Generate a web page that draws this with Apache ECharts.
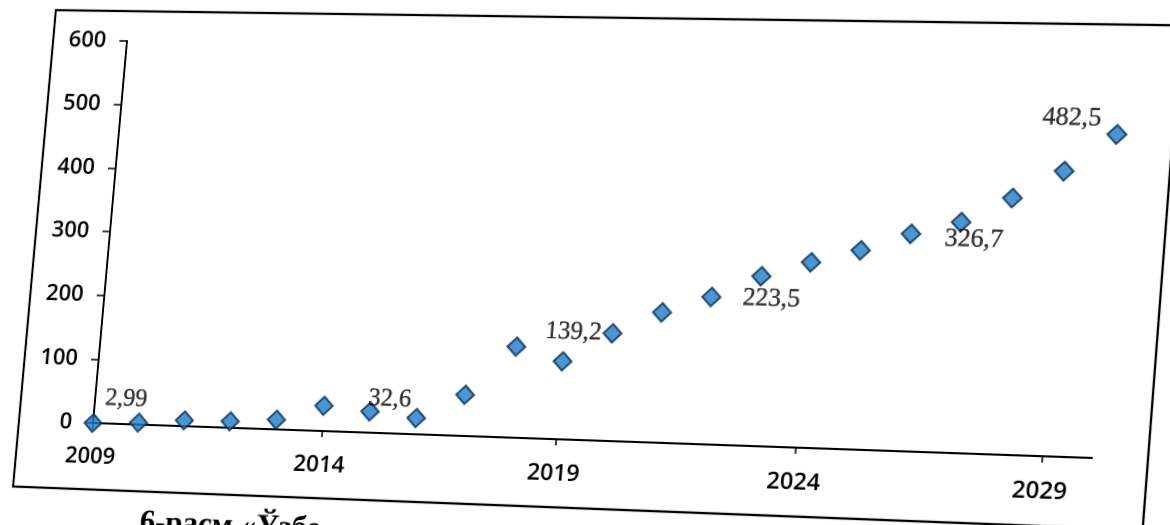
<!DOCTYPE html>
<html>
<head>
<meta charset="utf-8">
<script src="https://cdn.jsdelivr.net/npm/echarts@6/dist/echarts.min.js"></script>
<style>
  html, body { margin: 0; padding: 0; background: #fff; overflow: hidden; }
  #wrap { position: absolute; left: 0; top: 0; width: 1170px; height: 525px; transform-origin: 0 0; }
  #chart { width: 1170px; height: 525px; }
</style>
</head>
<body>
<div id="wrap"><div id="chart"></div></div>
<script>
// ---- data ----
const years = ['2009','2010','2011','2012','2013','2014','2015','2016','2017','2018','2019',
               '2020','2021','2022','2023','2024','2025','2026','2027','2028','2029','2030'];
const values = [0, 2.99, 9, 10, 15, 39, 32.6, 25, 63, 139.2, 119,
                164, 198, 223.5, 257, 280, 300, 326.7, 346, 384, 426, 482.5];
const labelledYears = ['2010', '2015', '2018', '2022', '2026', '2030'];
const yTicks = { min: 0, max: 600, step: 100 };
const captionText = '6-расм «Ўзбе';

// ---- label placement (style, not data) ----
const labelOffsets = {
  '2010': [-15, -23], '2015': [19, -13], '2018': [56, -16],
  '2022': [59, 0], '2026': [61, 4], '2030': [-44, -15]
};

// ---- page warp of the scanned sheet (layout only) ----
function homography(src, dst) {
  const A = [], b = [];
  for (let i = 0; i < 4; i++) {
    const [u, v] = src[i], [x, y] = dst[i];
    A.push([u, v, 1, 0, 0, 0, -u * x, -v * x]); b.push(x);
    A.push([0, 0, 0, u, v, 1, -u * y, -v * y]); b.push(y);
  }
  const n = 8;
  for (let c = 0; c < n; c++) {
    let p = c;
    for (let r = c + 1; r < n; r++) if (Math.abs(A[r][c]) > Math.abs(A[p][c])) p = r;
    [A[c], A[p]] = [A[p], A[c]]; [b[c], b[p]] = [b[p], b[c]];
    for (let r = 0; r < n; r++) {
      if (r === c) continue;
      const f = A[r][c] / A[c][c];
      for (let k = c; k < n; k++) A[r][k] -= f * A[c][k];
      b[r] -= f * b[c];
    }
  }
  return b.map((v, i) => v / A[i][i]);
}
const G = { left: 93, top: 41, width: 997, height: 382 };
const h = homography(
  [[G.left, G.top + G.height], [G.left, G.top], [G.left + G.width, G.top + G.height], [G.left + G.width, G.top]],
  [[93, 423], [127, 41], [1092, 458], [1123, 56]]
);
document.getElementById('wrap').style.transform =
  `matrix3d(${h[0]},${h[3]},0,${h[6]},${h[1]},${h[4]},0,${h[7]},0,0,1,0,${h[2]},${h[5]},0,1)`;

// ---- chart ----
const fmt = v => String(v).replace('.', ',');
const seriesData = years.map((y, i) => {
  const item = { value: values[i] };
  if (labelledYears.includes(y)) {
    item.label = { show: true, position: 'inside', offset: labelOffsets[y] || [0, -20], formatter: () => fmt(values[i]) };
  }
  return item;
});

const axisFont = { fontFamily: 'Open Sans', fontWeight: 600, fontSize: 23, color: '#000' };

const chart = echarts.init(document.getElementById('chart'), null, { renderer: 'canvas', devicePixelRatio: 2 });
chart.setOption({
  animation: false,
  backgroundColor: '#fff',
  grid: { left: G.left, top: G.top, width: G.width, height: G.height, containLabel: false },
  xAxis: {
    type: 'category',
    data: years,
    boundaryGap: false,
    axisLine: { lineStyle: { color: '#000', width: 2 } },
    axisTick: { show: true, interval: 4, length: 6, lineStyle: { color: '#000', width: 1.5 } },
    axisLabel: Object.assign({ interval: 4, margin: 22 }, axisFont),
    splitLine: { show: false }
  },
  yAxis: {
    type: 'value',
    min: yTicks.min, max: yTicks.max, interval: yTicks.step,
    axisLine: { show: true, lineStyle: { color: '#000', width: 2 } },
    axisTick: { show: true, length: 8, lineStyle: { color: '#000', width: 1.5 } },
    axisLabel: Object.assign({ margin: 22 }, axisFont),
    splitLine: { show: false }
  },
  graphic: [
    { type: 'rect', shape: { x: 15, y: 11, width: 1128, height: 478 },
      style: { fill: null, stroke: '#000', lineWidth: 2.2 }, silent: true },
    { type: 'text', left: 151, top: 504,
      style: { text: captionText, font: 'bold 32px "Liberation Serif"', fill: '#000' } }
  ],
  series: [{
    type: 'scatter',
    symbol: 'diamond',
    symbolSize: 18,
    itemStyle: { color: '#1c7ccd', borderColor: '#0a2d4e', borderWidth: 2 },
    label: { fontFamily: '"Liberation Serif", "DejaVu Serif", serif', fontSize: 25, color: '#000',
             textBorderColor: '#000', textBorderWidth: 0.35 },
    data: seriesData
  }]
});
</script>
</body>
</html>
